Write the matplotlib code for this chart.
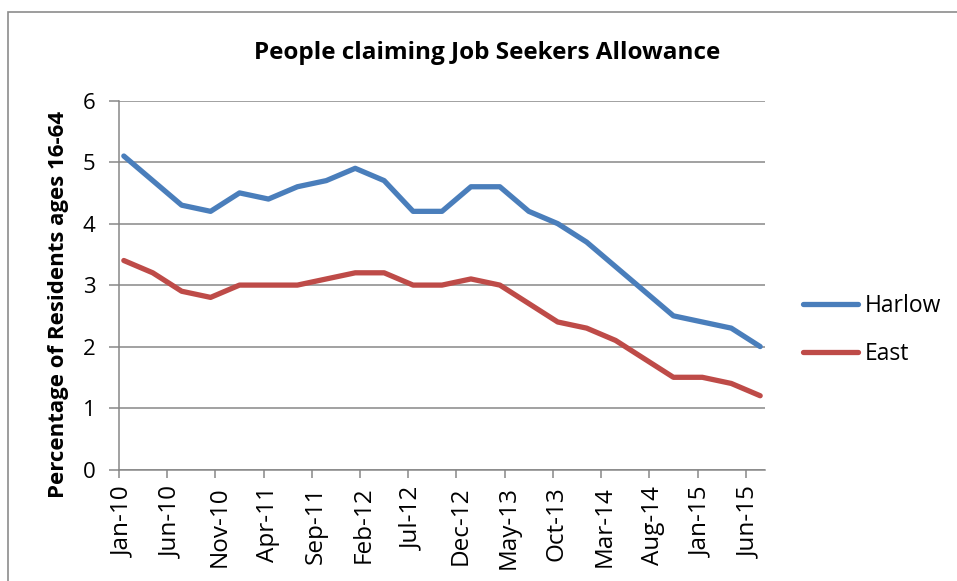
import matplotlib
matplotlib.use("Agg")
import matplotlib.pyplot as plt
from matplotlib.patches import Rectangle
from matplotlib.transforms import ScaledTranslation

# Quarterly observation months (first month of each quarter)
dates = ["2010-01", "2010-04", "2010-07", "2010-10",
         "2011-01", "2011-04", "2011-07", "2011-10",
         "2012-01", "2012-04", "2012-07", "2012-10",
         "2013-01", "2013-04", "2013-07", "2013-10",
         "2014-01", "2014-04", "2014-07", "2014-10",
         "2015-01", "2015-04", "2015-07"]

harlow = [5.1, 4.7, 4.3, 4.2, 4.5, 4.4, 4.6, 4.7, 4.9, 4.7, 4.2, 4.2,
          4.6, 4.6, 4.2, 4.0, 3.7, 3.3, 2.9, 2.5, 2.4, 2.3, 2.0]
east = [3.4, 3.2, 2.9, 2.8, 3.0, 3.0, 3.0, 3.1, 3.2, 3.2, 3.0, 3.0,
        3.1, 3.0, 2.7, 2.4, 2.3, 2.1, 1.8, 1.5, 1.5, 1.4, 1.2]

tick_labels = ["Jan-10", "Jun-10", "Nov-10", "Apr-11", "Sep-11", "Feb-12",
               "Jul-12", "Dec-12", "May-13", "Oct-13", "Mar-14", "Aug-14",
               "Jan-15", "Jun-15"]

title = "People claiming Job Seekers Allowance"
ylabel = "Percentage of Residents ages 16-64"

BLUE = "#4A7EBB"
RED = "#BE4B48"
GRID = "#878787"

plt.rcParams["font.family"] = ["Open Sans", "DejaVu Sans"]

MONTHS = ["Jan", "Feb", "Mar", "Apr", "May", "Jun",
          "Jul", "Aug", "Sep", "Oct", "Nov", "Dec"]


def month_index(s):
    y, m = s.split("-")
    return (int(y) - 2010) * 12 + int(m) - 1


def label_index(s):
    mon, yy = s.split("-")
    return (int(yy) - 10) * 12 + MONTHS.index(mon)


# points sit in the middle of their month slot
x = [month_index(d) + 0.5 for d in dates]
ticks = [label_index(t) for t in tick_labels]

W, H = 957, 581
fig = plt.figure(figsize=(W / 100, H / 100), dpi=100)

# chart frame
fig.patches.append(Rectangle((8 / W, -0.1), 1.2, (H - 12) / H + 0.1,
                             transform=fig.transFigure, fill=False,
                             edgecolor="#8C8C8C", linewidth=1.2))

left, right = 119 / W, 765 / W
top, bottom = (H - 100.7) / H, (H - 469.5) / H
ax = fig.add_axes([left, bottom, right - left, top - bottom])

ax.plot(x, harlow, color=BLUE, lw=3.8, solid_capstyle="round",
        solid_joinstyle="round", label="Harlow", zorder=3)
ax.plot(x, east, color=RED, lw=3.8, solid_capstyle="round",
        solid_joinstyle="round", label="East", zorder=3)

ax.set_xlim(0, 67)
ax.set_ylim(0, 6)
ax.set_yticks(range(0, 7))
ax.set_xticks(ticks)
ax.set_xticklabels(tick_labels, rotation=90, fontsize=17.5)
ax.tick_params(axis="y", labelsize=16, length=7, width=1.1, color=GRID,
               pad=10)
ax.tick_params(axis="x", length=6, width=1.1, color=GRID, pad=6)
shift = ScaledTranslation(4 / 100, 0, fig.dpi_scale_trans)
for lab in ax.get_xticklabels():
    lab.set_transform(lab.get_transform() + shift)

ax.grid(axis="y", color=GRID, lw=1.1)
ax.set_axisbelow(True)
for side in ("top", "right"):
    ax.spines[side].set_visible(False)
for side in ("left", "bottom"):
    ax.spines[side].set_color(GRID)
    ax.spines[side].set_linewidth(1.1)

fig.text(59 / W, (H - 304) / H, ylabel, rotation=90, ha="center",
         va="center", fontsize=16, fontweight="bold")
fig.text(487 / W, (H - 53) / H, title, ha="center", va="center",
         fontsize=17.5, fontweight="bold")

fig.legend(loc="center left", bbox_to_anchor=(782 / W, (H - 330) / H),
           frameon=False, fontsize=16.5, handlelength=2.4,
           handletextpad=0.3, labelspacing=1.05)

fig.savefig("out.png", dpi=100)
